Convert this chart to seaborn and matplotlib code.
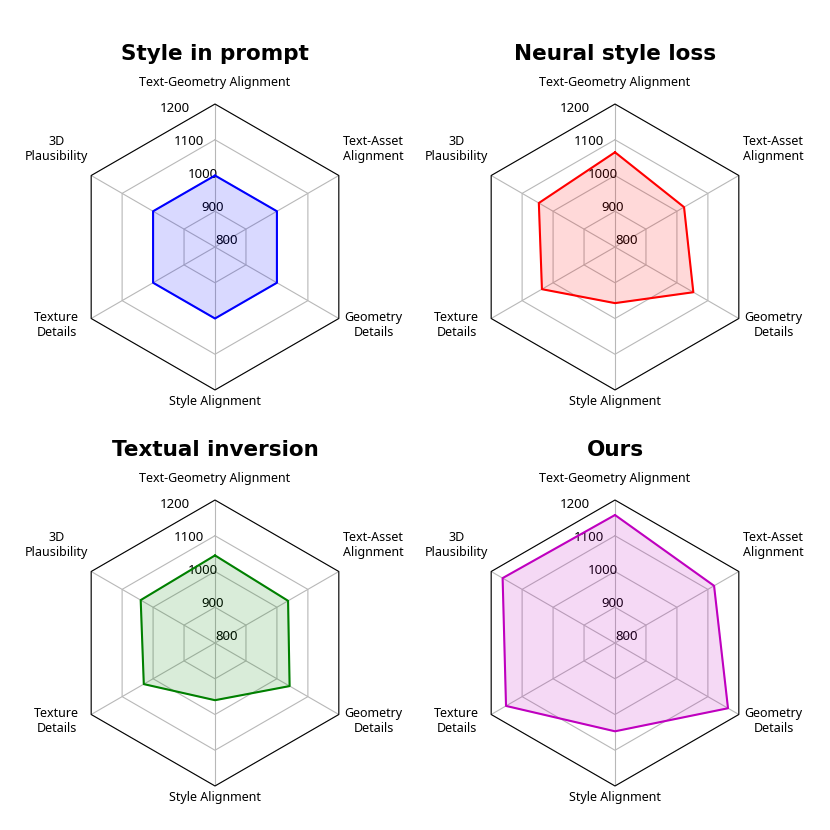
import numpy as np
import matplotlib
matplotlib.use("Agg")
import matplotlib.pyplot as plt
import seaborn as sns
import pandas as pd
from matplotlib.patches import RegularPolygon
from matplotlib.path import Path
from matplotlib.projections.polar import PolarAxes
from matplotlib.projections import register_projection
from matplotlib.spines import Spine
from matplotlib.transforms import Affine2D

# ---- data (counter-clockwise from top) ----
categories = ["Text-Geometry Alignment", "3D\nPlausibility", "Texture\nDetails",
              "Style Alignment", "Geometry\nDetails", "Text-Asset\nAlignment"]
titles = ["Style in prompt", "Neural style loss", "Textual inversion", "Ours"]
style_in_prompt = [1000, 1000, 1000, 1000, 1000, 1000]
neural_style_loss = [1065, 1046, 1036, 957, 1053, 1023]
textual_inversion = [1045, 1040, 1030, 960, 1041, 1036]
ours = [1158, 1163, 1152, 1047, 1165, 1120]
series_colors = ["b", "r", "g", "m"]
r_ticks = [800, 900, 1000, 1100, 1200]

# label placement (pixel offsets from the chart centre, y downward)
label_dx = [0, -158.5, -158.5, 0, 158.5, 158.5]
label_dy = [-164.5, -98.5, 77.5, 154, 77.5, -98.5]

N = len(categories)
theta = np.linspace(0, 2 * np.pi, N, endpoint=False)


class RadarTransform(PolarAxes.PolarTransform):
    def transform_path_non_affine(self, path):
        if path._interpolation_steps > 1:
            path = path.interpolated(N)
        return Path(self.transform(path.vertices), path.codes)


class RadarAxes(PolarAxes):
    name = "radar_hex"
    PolarTransform = RadarTransform

    def __init__(self, *args, **kwargs):
        super().__init__(*args, **kwargs)
        self.set_theta_zero_location("N")

    def _gen_axes_patch(self):
        return RegularPolygon((0.5, 0.5), N, radius=0.5, edgecolor="k")

    def _gen_axes_spines(self):
        spine = Spine(axes=self, spine_type="circle",
                      path=Path.unit_regular_polygon(N))
        spine.set_transform(Affine2D().scale(0.5).translate(0.5, 0.5) + self.transAxes)
        return {"polar": spine}


register_projection(RadarAxes)

sns.set_style("white", rc={"text.color": "black", "axes.labelcolor": "black",
                           "xtick.color": "black", "ytick.color": "black"})
plt.rcParams["font.family"] = ["Noto Sans", "DejaVu Sans"]

fig = plt.figure(figsize=(8.3, 8.3), dpi=100)
S = 286.0
W = S / 830
positions = [(72 / 830, 1 - 390 / 830), (472 / 830, 1 - 390 / 830),
             (72 / 830, 1 - 786 / 830), (472 / 830, 1 - 786 / 830)]
all_series = [style_in_prompt, neural_style_loss, textual_inversion, ours]

for (l, b), title, vals, col in zip(positions, titles, all_series, series_colors):
    ax = fig.add_axes([l, b, W, W], projection="radar_hex")
    df = pd.DataFrame({"theta": np.append(theta, theta[0]),
                       "value": np.append(vals, vals[0])})
    sns.lineplot(data=df, x="theta", y="value", sort=False, estimator=None,
                 color=col, linewidth=1.5, ax=ax)
    ax.fill(df["theta"], df["value"], color=col, alpha=0.15)
    ax.set_ylim(r_ticks[0], r_ticks[-1])
    ax.set_rgrids(r_ticks, labels=[str(t) for t in r_ticks], fontsize=9.5,
                  color="black")
    ax.set_thetagrids(np.degrees(theta), [""] * N)
    for lab, dx, dy in zip(categories, label_dx, label_dy):
        ax.text(0.5 + dx / S, 0.5 - dy / S, lab, transform=ax.transAxes,
                ha="center", va="center", multialignment="center",
                fontsize=9, color="black")
    ax.set_xlabel("")
    ax.set_ylabel("")
    ax.grid(True, color="#b8b8b8", linewidth=0.8)
    ax.spines["polar"].set_edgecolor("black")
    ax.spines["polar"].set_linewidth(0.8)
    ax.set_title(title, fontsize=15.5, fontweight="bold", family="DejaVu Sans",
                 y=1 + 49.6 / S, pad=0, va="center", color="black")

fig.savefig("out.png", dpi=100, facecolor="white")
